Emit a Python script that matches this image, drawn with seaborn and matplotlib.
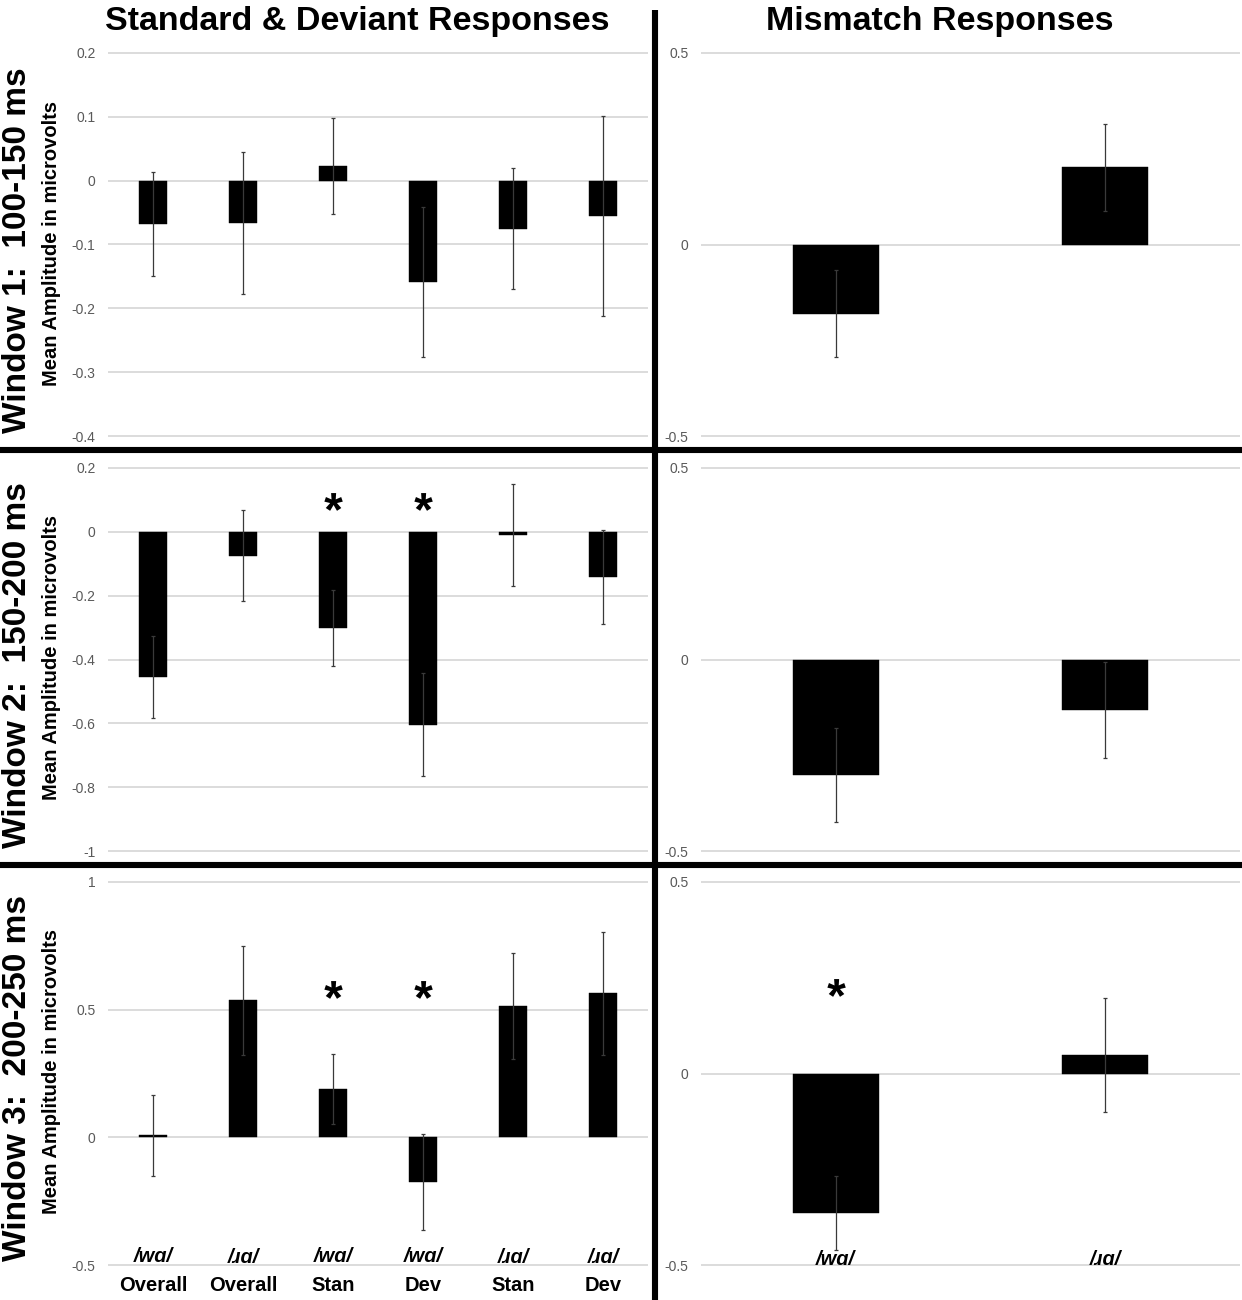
import numpy as np
import pandas as pd
import matplotlib
matplotlib.use("Agg")
import matplotlib.pyplot as plt
import matplotlib.transforms as mtransforms
import seaborn as sns
from matplotlib.textpath import TextPath
from matplotlib.font_manager import FontProperties
from matplotlib.path import Path
from matplotlib.lines import Line2D

# ---------------- data ----------------
left_phonemes = ["/wɑ/", "/ɹɑ/", "/wɑ/", "/wɑ/", "/ɹɑ/", "/ɹɑ/"]
left_conditions = ["Overall", "Overall", "Stan", "Dev", "Stan", "Dev"]
right_phonemes = ["/wɑ/", "/ɹɑ/"]

w1_means = [-0.068, -0.066, 0.022, -0.159, -0.075, -0.055]
w1_errs = [0.081, 0.111, 0.075, 0.117, 0.095, 0.156]
w2_means = [-0.454, -0.075, -0.302, -0.604, -0.011, -0.142]
w2_errs = [0.128, 0.141, 0.119, 0.161, 0.160, 0.148]
w3_means = [0.008, 0.536, 0.191, -0.174, 0.513, 0.563]
w3_errs = [0.158, 0.212, 0.137, 0.189, 0.206, 0.241]

mm1_means = [-0.180, 0.201]
mm1_errs = [0.113, 0.113]
mm2_means = [-0.301, -0.131]
mm2_errs = [0.122, 0.125]
mm3_means = [-0.363, 0.048]
mm3_errs = [0.097, 0.149]

w1_ticks = [-0.4, -0.3, -0.2, -0.1, 0, 0.1, 0.2]
w2_ticks = [-1, -0.8, -0.6, -0.4, -0.2, 0, 0.2]
w3_ticks = [-0.5, 0, 0.5, 1]
mm_ticks = [-0.5, 0, 0.5]

row_titles = ["Window 1:  100-150 ms", "Window 2:  150-200 ms", "Window 3:  200-250 ms"]
col_titles = ["Standard & Deviant Responses", "Mismatch Responses"]
yaxis_label = "Mean Amplitude in microvolts"

# significance markers: (bar index, asterisk height)
w2_sig = [(2, 0.07), (3, 0.07)]
w3_sig = [(2, 0.55), (3, 0.55)]
mm3_sig = [(0, 0.205)]

# ---------------- style ----------------
sns.set_style("white")
plt.rcParams["font.family"] = ["Liberation Sans", "DejaVu Sans"]

W, H = 1242, 1300
fig = plt.figure(figsize=(W / 100, H / 100), dpi=100)

# asterisk marker centred on its ink
_tp = TextPath((0, 0), "*", prop=FontProperties(family="Liberation Sans", weight="bold"))
_v = _tp.vertices.copy()
_c = (_v.min(axis=0) + _v.max(axis=0)) / 2
star_path = Path(_v - _c, _tp.codes)


def fmt(v):
    s = f"{round(v, 2):g}"
    return "0" if s in ("-0", "0") else s


def draw_panel(ax, labels, means, errs, ticks, sig):
    df = pd.DataFrame({"cond": labels, "amp": means})
    sns.barplot(data=df, x="cond", y="amp", color="black", saturation=1,
                width=0.32, errorbar=None, ax=ax, zorder=3,
                edgecolor="black", linewidth=0.3)
    ax.errorbar(np.arange(len(means)), means, yerr=errs, fmt="none",
                ecolor="#3a3a3a", elinewidth=0.9, capsize=1.5, capthick=0.9, zorder=4)
    lo, hi = min(ticks), max(ticks)
    eps = (hi - lo) * 0.004
    ax.set_ylim(lo - eps, hi + eps)
    ax.set_xlim(-0.5, len(means) - 0.5)
    ax.set_yticks(ticks)
    ax.set_yticklabels([fmt(t) for t in ticks])
    ax.yaxis.grid(True, color="#d9d9d9", linewidth=1.3)
    ax.xaxis.grid(False)
    ax.set_axisbelow(True)
    for s in ax.spines.values():
        s.set_visible(False)
    ax.tick_params(axis="y", length=0, pad=9, labelsize=10, labelcolor="#595959")
    ax.tick_params(axis="x", length=0, labelbottom=False)
    ax.set_xlabel("")
    ax.set_ylabel("")
    if sig:
        ax.scatter([i for i, _ in sig], [y for _, y in sig], marker=star_path,
                   s=560, color="black", linewidths=0, zorder=5)


row_bottoms = [1 - 438 / H, 1 - 853 / H, 1 - 1267 / H]
ax_h = 387 / H
left_x, left_w = 108 / W, 540 / W
right_x, right_w = 701 / W, 539 / W

left_sets = [(w1_means, w1_errs, w1_ticks, None),
             (w2_means, w2_errs, w2_ticks, w2_sig),
             (w3_means, w3_errs, w3_ticks, w3_sig)]
right_sets = [(mm1_means, mm1_errs, mm_ticks, None),
              (mm2_means, mm2_errs, mm_ticks, None),
              (mm3_means, mm3_errs, mm_ticks, mm3_sig)]

left_keys = [f"{p} {c}" for p, c in zip(left_phonemes, left_conditions)]

for r in range(3):
    axl = fig.add_axes([left_x, row_bottoms[r], left_w, ax_h])
    m, e, t, sg = left_sets[r]
    draw_panel(axl, left_keys, m, e, t, sg)
    axr = fig.add_axes([right_x, row_bottoms[r], right_w, ax_h])
    m, e, t, sg = right_sets[r]
    draw_panel(axr, right_phonemes, m, e, t, sg)
    if r == 2:
        tl = mtransforms.blended_transform_factory(axl.transData, axl.transAxes)
        for i, (p, c) in enumerate(zip(left_phonemes, left_conditions)):
            axl.text(i, 0.026, p, transform=tl, ha="center", va="center",
                     fontsize=14.5, fontweight="bold", fontstyle="italic", color="black")
            axl.text(i, -0.048, c, transform=tl, ha="center", va="center",
                     fontsize=14.5, fontweight="bold", color="black")
        tr = mtransforms.blended_transform_factory(axr.transData, axr.transAxes)
        for i, p in enumerate(right_phonemes):
            axr.text(i, 0.02, p, transform=tr, ha="center", va="center",
                     fontsize=14.5, fontweight="bold", fontstyle="italic", color="black")

# column titles
fig.text(357 / W, 1 - 30 / H, col_titles[0], ha="center", va="baseline",
         fontsize=24.5, fontweight="bold", color="black")
fig.text(940 / W, 1 - 30 / H, col_titles[1], ha="center", va="baseline",
         fontsize=24.5, fontweight="bold", color="black")

# row titles and y-axis labels
row_centers = [250, 665, 1078]
ylab_centers = [243, 657, 1072]
for r in range(3):
    fig.text(18 / W, 1 - row_centers[r] / H, row_titles[r], rotation=90,
             ha="center", va="center", fontsize=24, fontweight="bold", color="black")
    fig.text(52 / W, 1 - ylab_centers[r] / H, yaxis_label, rotation=90,
             ha="center", va="center", fontsize=14.5, fontweight="bold", color="black")

# thick separators
lw = 4.4
fig.add_artist(Line2D([655 / W, 655 / W], [0, 1 - 10 / H], transform=fig.transFigure,
                      color="black", lw=lw, solid_capstyle="butt"))
for yy in (450, 865):
    fig.add_artist(Line2D([0, 1], [1 - yy / H, 1 - yy / H], transform=fig.transFigure,
                          color="black", lw=lw, solid_capstyle="butt"))

fig.savefig("out.png", dpi=100, facecolor="white")
